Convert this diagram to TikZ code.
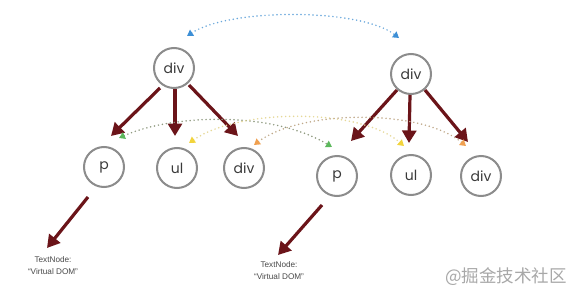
\documentclass[tikz,border=0pt]{standalone}
\usepackage{fontspec}
\setmainfont{Liberation Sans}
\newfontfamily\nodefont{Poppins}
\newfontfamily\cjkfont{Noto Sans CJK SC}
\usetikzlibrary{arrows.meta}

\definecolor{nodegray}{HTML}{8C8C8C}
\definecolor{textdark}{HTML}{3A3A3A}
\definecolor{leafgray}{HTML}{4A4A4A}
\definecolor{arrowred}{HTML}{6B1419}
\definecolor{blueline}{HTML}{6AA8DC}
\definecolor{bluetip}{HTML}{3D8FD6}
\definecolor{greenline}{HTML}{8F9A80}
\definecolor{greentip}{HTML}{5CB85C}
\definecolor{yellowline}{HTML}{E6D896}
\definecolor{yellowtip}{HTML}{F2D43C}
\definecolor{orangeline}{HTML}{BFA888}
\definecolor{orangetip}{HTML}{F0A050}
\definecolor{wmgray}{HTML}{A8A8A8}

\begin{document}
\begin{tikzpicture}[x=1pt,y=-1pt,
  treenode/.style={circle, draw=nodegray, line width=2pt, minimum size=40pt,
    inner sep=0pt, text=textdark, font=\nodefont\fontsize{14}{14}\selectfont},
  leaf/.style={align=center, text=leafgray, inner sep=1pt,
    font=\fontsize{8.2}{12}\selectfont},
  child/.style={draw=arrowred, line width=3.2pt,
    -{Triangle[length=12.5pt,width=14pt]}},
  diffline/.style={line width=1.7pt, line cap=round,
    dash pattern=on 0pt off 4pt, draw=#1line,
    {Triangle[length=6pt,width=7pt,color=#1tip]}-{Triangle[length=6pt,width=7pt,color=#1tip]}}
]
\useasboundingbox[fill=white] (0,0) rectangle (581,300);

% old tree
\node[treenode] (rootL) at (174,68) {div};
\node[treenode] (pL)    at (104,167) {p};
\node[treenode] (ulL)   at (177,168) {ul};
\node[treenode] (divL)  at (244,168) {div};
\node[leaf] (txtL) at (53,266) {TextNode:\\“Virtual DOM”};

% new tree
\node[treenode] (rootR) at (411,74) {div};
\node[treenode] (pR)    at (337,176) {p};
\node[treenode] (ulR)   at (411,175) {ul};
\node[treenode] (divR)  at (481,176) {div};
\node[leaf] (txtR) at (279,271) {TextNode:\\“Virtual DOM”};

% parent -> child edges
\draw[child] ([shift={(-14,20)}]rootL.center) -- ([shift={(7,-31)}]pL.center);
\draw[child] ([shift={(1,21)}]rootL.center)   -- ([shift={(-2,-32)}]ulL.center);
\draw[child] ([shift={(15,17)}]rootL.center)  -- ([shift={(-6,-32)}]divL.center);
\draw[child] ([shift={(-14,16)}]rootR.center) -- ([shift={(14,-35)}]pR.center);
\draw[child] ([shift={(-1,21)}]rootR.center)  -- ([shift={(-2,-32)}]ulR.center);
\draw[child] ([shift={(14,16)}]rootR.center)  -- ([shift={(-13,-34)}]divR.center);
\draw[child] ([shift={(-16,30)}]pL.center) -- ([shift={(-6,-18)}]txtL.center);
\draw[child] ([shift={(-15,29)}]pR.center) -- ([shift={(-1,-16)}]txtR.center);

% comparisons between matching nodes
\draw[diffline=blue]
  ([shift={(13,-32)}]rootL.center) .. controls (230,8) and (360,8) ..
  ([shift={(-12,-36)}]rootR.center);
\draw[diffline=green]
  ([shift={(15,-29)}]pL.center) .. controls (170,115) and (270,110) ..
  ([shift={(-5,-29)}]pR.center);
\draw[diffline=yellow]
  ([shift={(12,-25)}]ulL.center) .. controls (240,108) and (360,108) ..
  ([shift={(-7,-29)}]ulR.center);
\draw[diffline=orange]
  ([shift={(10,-23)}]divL.center) .. controls (300,110) and (420,108) ..
  ([shift={(-15,-30)}]divR.center);

% watermark
\node[anchor=east, text=wmgray, inner sep=0pt,
  font=\cjkfont\fontsize{17.5}{17.5}\selectfont] (mark) at (567,277) {@掘金技术社区};
\end{tikzpicture}
\end{document}
